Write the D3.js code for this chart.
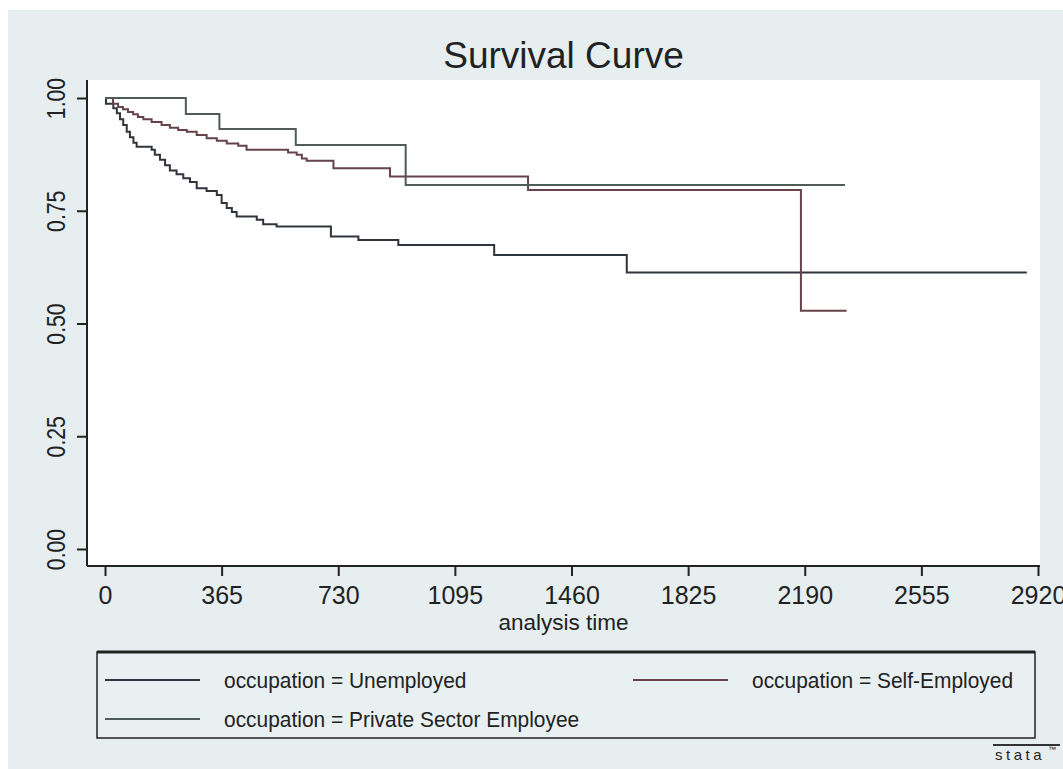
<!DOCTYPE html>
<html><head><meta charset="utf-8">
<script src="https://cdn.jsdelivr.net/npm/d3@7"></script>
<style>
html,body{margin:0;padding:0;background:#fff;}
svg{display:block;}
text{font-family:"Liberation Sans",Arial,sans-serif;fill:#222;}
</style></head>
<body>
<svg id="chart" width="1063" height="769"></svg>
<script>
// ---- data ----
const seriesNames = ["occupation = Unemployed", "occupation = Self-Employed", "occupation = Private Sector Employee"];
const seriesColors = ["#30343c", "#66424a", "#4f5c58"];
// [analysis time, survival] step points; last point marks the end of follow-up
const unemployed = [[0,1.0],[3,0.987],[26,0.977],[37,0.966],[47,0.953],[57,0.940],[68,0.925],[78,0.913],[89,0.901],[99,0.892],[146,0.885],[156,0.874],[172,0.863],[188,0.851],[203,0.839],[224,0.831],[245,0.822],[266,0.814],[287,0.800],[318,0.794],[350,0.785],[365,0.767],[381,0.756],[397,0.747],[412,0.737],[475,0.730],[495,0.720],[537,0.715],[707,0.693],[793,0.685],[918,0.674],[1218,0.652],[1633,0.613],[2885,0.613]];
const selfEmployed = [[0,1.0],[25,0.987],[41,0.980],[56,0.975],[72,0.969],[88,0.964],[103,0.958],[120,0.953],[146,0.947],[177,0.940],[203,0.934],[229,0.929],[256,0.925],[287,0.918],[318,0.911],[350,0.905],[381,0.899],[417,0.894],[443,0.885],[573,0.879],[600,0.874],[616,0.866],[631,0.861],[715,0.844],[892,0.826],[1324,0.796],[2178,0.528],[2321,0.528]];
const privateSector = [[0,1.0],[253,0.9645],[358,0.931],[597,0.896],[941,0.807],[2316,0.807]];
const xTicks = [0,365,730,1095,1460,1825,2190,2555,2920];
const yTicks = [0,0.25,0.5,0.75,1.0];
const titleText = "Survival Curve";
const xTitle = "analysis time";

const allSeries = [unemployed, selfEmployed, privateSector];

const svg = d3.select("#chart");
// graph region
svg.append("rect").attr("x",8).attr("y",10).attr("width",1055).attr("height",759).attr("fill","#e6eef0");
// plot region
const plotL = 87, plotR = 1040, plotT = 80, plotB = 566;
svg.append("rect").attr("x",plotL).attr("y",plotT).attr("width",plotR-plotL).attr("height",plotB-plotT).attr("fill","#ffffff");

const x = d3.scaleLinear().domain([0,2920]).range([105,1038]);
const y = d3.scaleLinear().domain([0,1]).range([549,98]);

// title
svg.append("text").attr("x",(plotL+plotR)/2).attr("y",68).attr("text-anchor","middle")
  .attr("font-size",37).text(titleText);

// axes
const xAxis = d3.axisBottom(x).tickValues(xTicks).tickFormat(d3.format("d")).tickSize(10).tickSizeOuter(0);
const gx = svg.append("g").attr("transform",`translate(0,${plotB})`).call(xAxis);
gx.select(".domain").attr("d",`M${plotL},0H${plotR}`).attr("stroke","#222").attr("stroke-width",2);
gx.selectAll(".tick line").attr("stroke","#222").attr("stroke-width",2);
gx.selectAll(".tick text").attr("font-size",25).attr("y",0).attr("dy",null).attr("fill","#222")
  .attr("font-family","'Liberation Sans',Arial,sans-serif")
  .attr("transform","translate(0,38)");

const yAxis = d3.axisLeft(y).tickValues(yTicks).tickFormat(d3.format(".2f")).tickSize(10).tickSizeOuter(0);
const gy = svg.append("g").attr("transform",`translate(${plotL},0)`).call(yAxis);
gy.select(".domain").attr("d",`M0,${plotT}V${plotB}`).attr("stroke","#222").attr("stroke-width",2);
gy.selectAll(".tick line").attr("stroke","#222").attr("stroke-width",2);
gy.selectAll(".tick text").attr("font-size",25).attr("fill","#222")
  .attr("x",0).attr("dy",null).attr("text-anchor","middle")
  .attr("font-family","'Liberation Sans',Arial,sans-serif")
  .attr("transform","translate(-22,0) rotate(-90) scale(0.85,1)");

svg.append("text").attr("x",0).attr("y",0).attr("text-anchor","middle")
  .attr("font-size",22.5).attr("transform",`translate(${(plotL+plotR)/2},630)`).text(xTitle);

// curves
const line = d3.line().x(d=>x(d[0])).y(d=>y(d[1])).curve(d3.curveStepAfter);
allSeries.forEach((s,i)=>{
  svg.append("path").datum(s).attr("d",line).attr("fill","none")
    .attr("stroke",seriesColors[i]).attr("stroke-width",2);
});

// legend
const lg = svg.append("g");
lg.append("rect").attr("x",97).attr("y",652).attr("width",938).attr("height",86)
  .attr("fill","#e9f0f2").attr("stroke","#222").attr("stroke-width",1.5);
lg.append("line").attr("x1",97).attr("x2",1035).attr("y1",652).attr("y2",652).attr("stroke","#222").attr("stroke-width",3);
const legPos = [[105,680],[633,680],[105,719]];
seriesNames.forEach((n,i)=>{
  const [lx,ly] = legPos[i];
  lg.append("line").attr("x1",lx).attr("x2",lx+95).attr("y1",ly).attr("y2",ly)
    .attr("stroke",seriesColors[i]).attr("stroke-width",2);
  lg.append("text").attr("x",0).attr("y",0).attr("font-size",22.5)
    .attr("transform",`translate(${lx+119},${ly+8}) scale(0.93,1)`).text(n);
});

// stata mark
svg.append("line").attr("x1",993).attr("x2",1060).attr("y1",745).attr("y2",745).attr("stroke","#333").attr("stroke-width",2);
svg.append("text").attr("x",995).attr("y",760).attr("font-size",15).attr("letter-spacing",3.5).attr("fill","#333").text("stata");
svg.append("text").attr("x",1048).attr("y",752).attr("font-size",8).attr("fill","#333").text("\u2122");
</script>
</body></html>
